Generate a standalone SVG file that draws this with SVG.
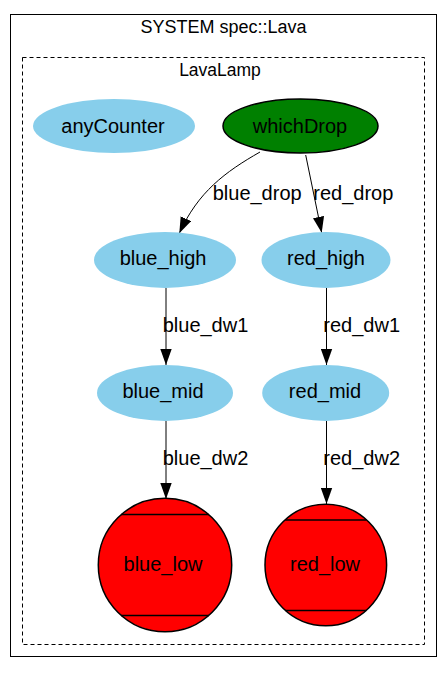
<svg xmlns="http://www.w3.org/2000/svg" width="448" height="675" viewBox="0 0 448 675">
<style>
text{font-family:"Liberation Sans",Arial,sans-serif;fill:#000}
.t{font-size:18px;text-anchor:middle}
.n{font-size:20px;text-anchor:middle}
.l{font-size:20px}
.sb{fill:#87CEEB;stroke:none}
.e{fill:none;stroke:#000;stroke-width:1}
</style>
<defs>
<marker id="ah" markerUnits="userSpaceOnUse" markerWidth="17" markerHeight="12" refX="16" refY="6" orient="auto">
<path d="M0,0.3 L16,6 L0,11.7 z" fill="#000"/>
</marker>
</defs>
<g id="system">
<rect x="10.5" y="14.5" width="426" height="642" fill="#fff" stroke="#000" stroke-width="1"/>
<text class="t" x="223.5" y="32.5">SYSTEM spec::Lava</text>
</g>
<g id="LavaLamp">
<rect x="22.5" y="57.5" width="402" height="587" fill="none" stroke="#000" stroke-width="1" stroke-dasharray="4,3"/>
<text class="t" x="220" y="76" style="font-size:17.5px">LavaLamp</text>
</g>
<g id="edges">
<path class="e" d="M260,152 C225,172 198,192 179.3,233.3" marker-end="url(#ah)"/>
<text class="l" x="212.7" y="200">blue_drop</text>
<line class="e" x1="305.7" y1="155" x2="321.7" y2="232.7" marker-end="url(#ah)"/>
<text class="l" x="313.3" y="200">red_drop</text>
<line class="e" x1="166" y1="288" x2="166" y2="365" marker-end="url(#ah)"/>
<text class="l" x="162.7" y="332">blue_dw1</text>
<line class="e" x1="326.5" y1="288" x2="326.5" y2="365" marker-end="url(#ah)"/>
<text class="l" x="323.3" y="332">red_dw1</text>
<line class="e" x1="166" y1="421" x2="166" y2="499" marker-end="url(#ah)"/>
<text class="l" x="162.7" y="465">blue_dw2</text>
<line class="e" x1="326.5" y1="421" x2="326.5" y2="504" marker-end="url(#ah)"/>
<text class="l" x="323.3" y="465">red_dw2</text>
</g>
<g id="anyCounter">
<ellipse class="sb" cx="114" cy="126" rx="81" ry="27"/>
<text class="n" x="113" y="133">anyCounter</text>
</g>
<g id="whichDrop">
<ellipse cx="300.5" cy="126" rx="77.5" ry="27" fill="#008000" stroke="#000" stroke-width="1.5"/>
<text class="n" x="300" y="133">whichDrop</text>
</g>
<g id="blue_high">
<ellipse class="sb" cx="165" cy="260" rx="71" ry="28"/>
<text class="n" x="163" y="265">blue_high</text>
</g>
<g id="red_high">
<ellipse class="sb" cx="326" cy="260" rx="64.5" ry="28"/>
<text class="n" x="326" y="265">red_high</text>
</g>
<g id="blue_mid">
<ellipse class="sb" cx="165" cy="393" rx="68" ry="28"/>
<text class="n" x="163" y="397.5">blue_mid</text>
</g>
<g id="red_mid">
<ellipse class="sb" cx="325.7" cy="393" rx="63.5" ry="28"/>
<text class="n" x="325" y="397.5">red_mid</text>
</g>
<g id="blue_low">
<circle cx="165" cy="565" r="66.7" fill="#FF0000" stroke="#000" stroke-width="1.5"/>
<line x1="121" y1="514.5" x2="209" y2="514.5" stroke="#000" stroke-width="1.5"/>
<line x1="121" y1="615.5" x2="209" y2="615.5" stroke="#000" stroke-width="1.5"/>
<text class="n" x="163" y="571">blue_low</text>
</g>
<g id="red_low">
<circle cx="325.8" cy="565" r="60.8" fill="#FF0000" stroke="#000" stroke-width="1.5"/>
<line x1="285.3" y1="520" x2="366.3" y2="520" stroke="#000" stroke-width="1.5"/>
<line x1="285.3" y1="610.5" x2="366.3" y2="610.5" stroke="#000" stroke-width="1.5"/>
<text class="n" x="325" y="571">red_low</text>
</g>
</svg>
